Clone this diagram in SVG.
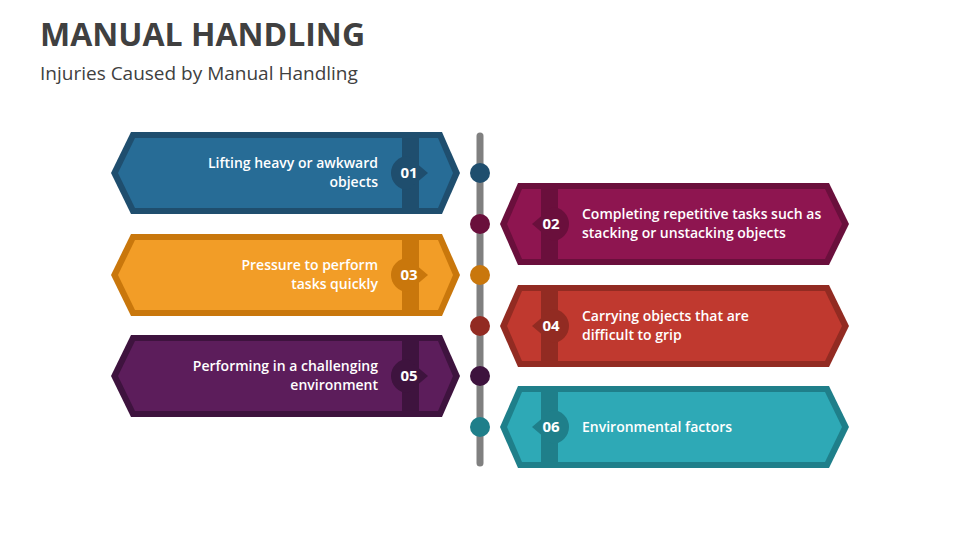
<svg xmlns="http://www.w3.org/2000/svg" width="960" height="540" viewBox="0 0 960 540">
<style>
.t{font-family:"Open Sans","Liberation Sans",sans-serif;font-size:14px;font-weight:600;fill:#fff}
.n{font-family:"Open Sans","Liberation Sans",sans-serif;font-size:15px;font-weight:700;fill:#fff;text-anchor:middle}
.l{text-anchor:end}
</style>
<defs>
<g id="L"><polygon points="20,0 331,0 349,41 331,82 20,82 0,41"/></g>
</defs>
<rect width="960" height="540" fill="#fff"/>
<text x="40" y="46" font-family="'Open Sans','Liberation Sans',sans-serif" font-size="32" font-weight="700" fill="#404040">MANUAL HANDLING</text>
<text x="40" y="80" font-family="'Open Sans','Liberation Sans',sans-serif" font-size="19" fill="#404040">Injuries Caused by Manual Handling</text>
<g id="connectors">
<line x1="480" y1="136" x2="480" y2="463" stroke="#808080" stroke-width="7" stroke-linecap="round"/>
<circle cx="480" cy="173" r="10" fill="#1F4E6E"/>
<circle cx="480" cy="224" r="10" fill="#6A0F3C"/>
<circle cx="480" cy="275" r="10" fill="#C9770C"/>
<circle cx="480" cy="326" r="10" fill="#922B22"/>
<circle cx="480" cy="376" r="10" fill="#3E133E"/>
<circle cx="480" cy="427" r="10" fill="#1F7F8A"/>
</g>
<g id="n01" transform="translate(111,132)">
<polygon points="20,0 331,0 349,41 331,82 20,82 0,41" fill="#1F4E6E"/>
<polygon points="24,6 327,6 342,41 327,76 24,76 7,41" fill="#276C96"/>
<rect x="291" y="0" width="17" height="82" fill="#1F4E6E"/>
<path d="M297,24 A17,17 0 1 0 297,58 L317,41 Z" fill="#1F4E6E"/>
<text class="n" x="298" y="46">01</text>
<text class="t l" x="267" y="36">Lifting heavy or awkward</text>
<text class="t l" x="267" y="55">objects</text>
</g>
<g id="n03" transform="translate(111,234)">
<polygon points="20,0 331,0 349,41 331,82 20,82 0,41" fill="#C9770C"/>
<polygon points="24,6 327,6 342,41 327,76 24,76 7,41" fill="#F29D27"/>
<rect x="291" y="0" width="17" height="82" fill="#C9770C"/>
<path d="M297,24 A17,17 0 1 0 297,58 L317,41 Z" fill="#C9770C"/>
<text class="n" x="298" y="46">03</text>
<text class="t l" x="267" y="36">Pressure to perform</text>
<text class="t l" x="267" y="55">tasks quickly</text>
</g>
<g id="n05" transform="translate(111,335)">
<polygon points="20,0 331,0 349,41 331,82 20,82 0,41" fill="#3E133E"/>
<polygon points="24,6 327,6 342,41 327,76 24,76 7,41" fill="#5C1D5B"/>
<rect x="291" y="0" width="17" height="82" fill="#3E133E"/>
<path d="M297,24 A17,17 0 1 0 297,58 L317,41 Z" fill="#3E133E"/>
<text class="n" x="298" y="46">05</text>
<text class="t l" x="267" y="36">Performing in a challenging</text>
<text class="t l" x="267" y="55">environment</text>
</g>
<g id="n02" transform="translate(500,183)">
<polygon points="18,0 329,0 349,41 329,82 18,82 0,41" fill="#6A0F3C"/>
<polygon points="22,6 325,6 342,41 325,76 22,76 7,41" fill="#8E1550"/>
<rect x="41" y="0" width="17" height="82" fill="#6A0F3C"/>
<path d="M52,24 A17,17 0 1 1 52,58 L32,41 Z" fill="#6A0F3C"/>
<text class="n" x="51" y="46">02</text>
<text class="t" x="82" y="36">Completing repetitive tasks such as</text>
<text class="t" x="82" y="55">stacking or unstacking objects</text>
</g>
<g id="n04" transform="translate(500,285)">
<polygon points="18,0 329,0 349,41 329,82 18,82 0,41" fill="#922B22"/>
<polygon points="22,6 325,6 342,41 325,76 22,76 7,41" fill="#C0392F"/>
<rect x="41" y="0" width="17" height="82" fill="#922B22"/>
<path d="M52,24 A17,17 0 1 1 52,58 L32,41 Z" fill="#922B22"/>
<text class="n" x="51" y="46">04</text>
<text class="t" x="82" y="36">Carrying objects that are</text>
<text class="t" x="82" y="55">difficult to grip</text>
</g>
<g id="n06" transform="translate(500,386)">
<polygon points="18,0 329,0 349,41 329,82 18,82 0,41" fill="#1F7F8A"/>
<polygon points="22,6 325,6 342,41 325,76 22,76 7,41" fill="#2EA9B6"/>
<rect x="41" y="0" width="17" height="82" fill="#1F7F8A"/>
<path d="M52,24 A17,17 0 1 1 52,58 L32,41 Z" fill="#1F7F8A"/>
<text class="n" x="51" y="46">06</text>
<text class="t" x="82" y="46">Environmental factors</text>
</g>
</svg>
